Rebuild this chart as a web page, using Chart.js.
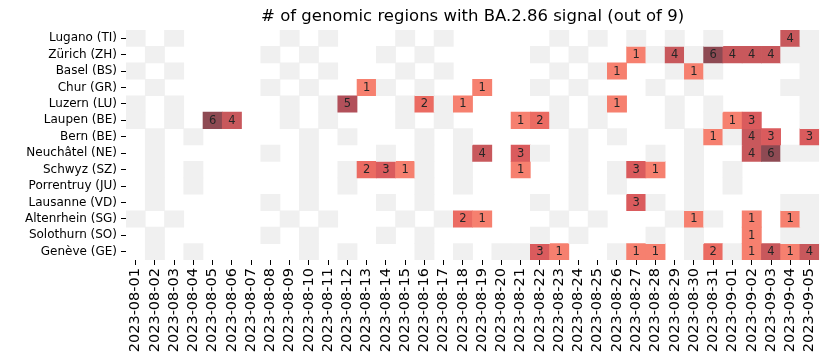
<!DOCTYPE html>
<html>
<head>
<meta charset="utf-8">
<script src="https://cdn.jsdelivr.net/npm/chart.js@4"></script>
<style>
  html, body { margin: 0; padding: 0; background: #fff; }
</style>
</head>
<body>
<canvas id="heat" width="830" height="361"></canvas>
<script>
const _ = null;

const days = [
  '2023-08-01', '2023-08-02', '2023-08-03', '2023-08-04', '2023-08-05', '2023-08-06',
  '2023-08-07', '2023-08-08', '2023-08-09', '2023-08-10', '2023-08-11', '2023-08-12',
  '2023-08-13', '2023-08-14', '2023-08-15', '2023-08-16', '2023-08-17', '2023-08-18',
  '2023-08-19', '2023-08-20', '2023-08-21', '2023-08-22', '2023-08-23', '2023-08-24',
  '2023-08-25', '2023-08-26', '2023-08-27', '2023-08-28', '2023-08-29', '2023-08-30',
  '2023-08-31', '2023-09-01', '2023-09-02', '2023-09-03', '2023-09-04', '2023-09-05',
];

const places = [
  'Lugano (TI)', 'Zürich (ZH)', 'Basel (BS)', 'Chur (GR)', 'Luzern (LU)', 'Laupen (BE)',
  'Bern (BE)', 'Neuchâtel (NE)', 'Schwyz (SZ)', 'Porrentruy (JU)', 'Lausanne (VD)',
  'Altenrhein (SG)', 'Solothurn (SO)', 'Genève (GE)',
];

// null = no sample, 0 = sample without signal
const lugano     = [0,_,0,_,_,_, _,_,0,_,0,_, _,_,0,_,0,_, _,_,_,_,0,_, 0,_,0,_,0,_, 0,_,_,_,4,0];
const zurich     = [_,0,_,_,_,_, _,0,_,0,_,_, _,0,_,0,_,_, _,_,_,0,_,0, _,_,1,0,4,0, 6,4,4,4,0,0];
const basel      = [0,_,0,_,_,_, _,_,0,_,0,_, _,_,0,_,0,_, _,_,_,_,0,_, 0,1,_,_,0,1, 0,_,_,_,_,0];
const chur       = [_,0,_,_,_,_, _,0,_,0,_,_, 1,0,_,0,_,_, 1,_,_,0,_,0, _,_,_,0,_,0, _,_,_,_,0,0];
const luzern     = [0,_,0,_,_,_, _,_,0,_,0,5, _,_,0,2,0,1, _,_,_,_,0,_, 0,1,_,_,0,_, 0,_,_,_,_,0];
const laupen     = [0,_,0,_,6,4, _,_,0,_,0,_, _,_,0,_,0,_, _,_,1,2,0,_, 0,_,_,_,0,_, 0,1,3,_,_,0];
const bern       = [_,0,_,0,_,_, _,_,_,0,_,0, _,_,_,0,_,0, _,_,_,_,_,0, _,0,_,_,_,0, 1,0,4,3,_,3];
const neuchatel  = [_,0,_,_,_,_, _,0,_,0,_,_, _,0,_,0,_,0, 4,_,3,0,_,0, _,_,_,0,_,0, _,_,4,6,0,0];
const schwyz     = [_,0,_,0,_,_, _,_,_,0,_,0, 2,3,1,0,_,0, _,_,1,_,_,0, _,0,3,1,_,0, _,0,_,_,_,_];
const porrentruy = [_,0,_,0,_,_, _,_,_,0,_,0, _,_,_,0,_,0, _,_,_,_,_,0, _,0,_,_,_,0, _,0,_,_,_,_];
const lausanne   = [_,0,_,_,_,_, _,0,_,0,_,_, _,0,_,0,_,_, _,_,_,0,_,0, _,_,3,0,_,0, _,_,_,_,0,0];
const altenrhein = [0,_,0,_,_,_, _,_,0,_,0,_, _,_,0,_,0,2, 1,_,_,_,0,_, 0,_,_,_,0,1, 0,_,1,_,1,0];
const solothurn  = [_,0,_,_,_,_, _,0,_,0,_,_, _,0,_,0,_,_, _,_,_,0,_,0, _,_,_,0,_,0, _,_,1,_,0,0];
const geneve     = [_,0,_,0,_,_, _,_,_,0,_,0, _,_,_,0,_,0, _,0,0,3,1,_, _,0,1,1,_,0, 2,0,1,4,1,4];

const rows = [lugano, zurich, basel, chur, luzern, laupen, bern, neuchatel,
  schwyz, porrentruy, lausanne, altenrhein, solothurn, geneve];

const shades = ['#f0f0f0', '#f6806f', '#eb6b62', '#da5b5d', '#c8585c', '#b2505a', '#8e4a53'];
const FONT = '"DejaVu Sans", sans-serif';

const cellLabels = {
  id: 'cellLabels',
  afterDatasetsDraw(chart) {
    const ctx = chart.ctx;
    ctx.save();
    ctx.font = '11.5px ' + FONT;
    ctx.fillStyle = '#262626';
    ctx.textAlign = 'center';
    ctx.textBaseline = 'middle';
    rows.forEach((row, r) => {
      const meta = chart.getDatasetMeta(r);
      row.forEach((v, i) => {
        if (!v) return;
        const bar = meta.data[i];
        ctx.fillText(String(v), bar.x, (bar.y + bar.base) / 2 + 0.5);
      });
    });
    ctx.restore();
  },
};

const heading = {
  id: 'heading',
  afterDraw(chart) {
    const { ctx, chartArea } = chart;
    ctx.save();
    ctx.font = '16.5px ' + FONT;
    ctx.fillStyle = '#000';
    ctx.textAlign = 'center';
    ctx.textBaseline = 'middle';
    ctx.fillText('# of genomic regions with BA.2.86 signal (out of 9)',
      (chartArea.left + chartArea.right) / 2, 17);
    ctx.restore();
  },
};

new Chart(document.getElementById('heat'), {
  type: 'bar',
  data: {
    labels: days,
    datasets: rows.map((row, r) => ({
      label: places[r],
      data: row.map(v => (v == null ? null : [r, r + 1])),
      backgroundColor: row.map(v => (v == null ? 'rgba(0,0,0,0)' : shades[v])),
      borderWidth: 0,
      grouped: false,
      barPercentage: 1,
      categoryPercentage: 1,
    })),
  },
  options: {
    responsive: false,
    animation: false,
    events: [],
    layout: { padding: { top: 30, right: 6, left: 0, bottom: 0 } },
    plugins: { legend: { display: false }, tooltip: { enabled: false } },
    scales: {
      x: {
        type: 'category',
        afterFit: s => { s.height = 101; },
        border: { display: false },
        grid: { offset: false, drawOnChartArea: false, tickLength: 5, color: '#000', lineWidth: 1 },
        ticks: { autoSkip: false, maxRotation: 90, minRotation: 90, padding: 3, color: '#000', font: { family: FONT, size: 14.5 } },
      },
      y: {
        type: 'linear',
        min: 0,
        max: rows.length,
        reverse: true,
        afterFit: s => { s.width = 126; },
        afterBuildTicks: s => { s.ticks = places.map((p, i) => ({ value: i + 0.5 })); },
        border: { display: false },
        grid: { drawOnChartArea: false, tickLength: 5, color: '#000', lineWidth: 1 },
        ticks: {
          autoSkip: false, padding: 4, color: '#000', font: { family: FONT, size: 12 },
          callback: (v, i) => places[i],
        },
      },
    },
  },
  plugins: [cellLabels, heading],
});
</script>
</body>
</html>
